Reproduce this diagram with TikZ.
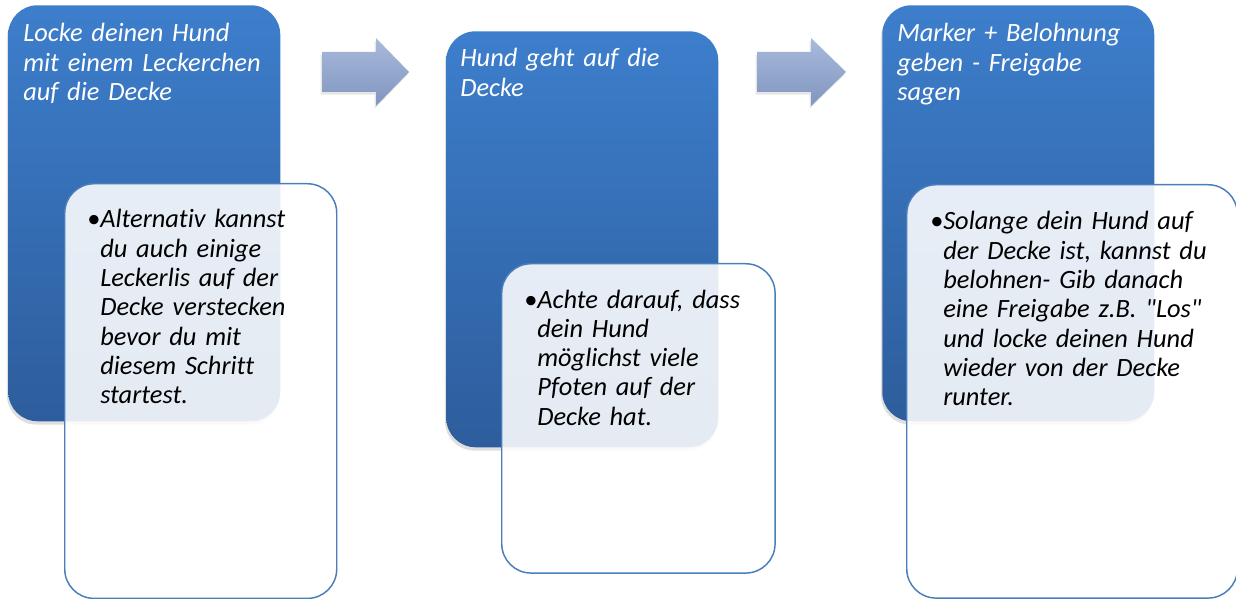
\documentclass[tikz,border=0pt]{standalone}
\usepackage{fontspec}
\setmainfont{Carlito}[Ligatures={NoCommon,TeXOff}]
\usetikzlibrary{shadows}
\definecolor{stepTop}{HTML}{3D7ECC}
\definecolor{stepBottom}{HTML}{2D5D9C}
\definecolor{noteLine}{HTML}{4A7EBB}
\definecolor{arrowTop}{HTML}{A8BADC}
\definecolor{arrowBottom}{HTML}{8195BF}
\begin{document}
\begin{tikzpicture}[x=0.75pt, y=-0.75pt,
    stepbox/.style={rectangle, rounded corners=22pt, top color=stepTop, bottom color=stepBottom,
      anchor=north west, inner sep=0pt, minimum width=204pt, minimum height=312pt,
      drop shadow={shadow xshift=-1pt, shadow yshift=-2.5pt, opacity=0.25}},
    notebox/.style={rectangle, rounded corners=22pt, fill=white, fill opacity=0.88,
      draw=noteLine, line width=1.1pt, anchor=north west, inner sep=0pt},
    titletext/.style={anchor=base west, inner sep=0pt, text width=200pt, align=left,
      text=white, font=\fontsize{19.8}{22}\selectfont\itshape},
    notetext/.style={anchor=base west, inner sep=0pt, text width=240pt, align=left,
      text=black, font=\fontsize{19.8}{22}\selectfont\itshape},
    blockarrow/.style={top color=arrowTop, bottom color=arrowBottom,
      drop shadow={shadow xshift=-1pt, shadow yshift=-2pt, opacity=0.2}}]
    \useasboundingbox (0,0) rectangle (1236,599);

    % steps
    \node[stepbox] (stepA) at (8,5) {};
    \node[stepbox] (stepB) at (446,31) {};
    \node[stepbox] (stepC) at (882,5) {};

    \node[titletext] (titleA) at (23,42) {Locke deinen Hund\\mit einem Leckerchen\\auf die Decke};
    \node[titletext] (titleB) at (460,67) {Hund geht auf die\\Decke};
    \node[titletext] (titleC) at (897,42) {Marker + Belohnung\\geben - Freigabe\\sagen};

    % notes
    \node[notebox, minimum width=204pt, minimum height=311pt] (noteA) at (64,183) {};
    \node[notebox, minimum width=205pt, minimum height=232pt] (noteB) at (501,263) {};
    \node[notebox, minimum width=248pt, minimum height=310pt] (noteC) at (906,184) {};

    \node[notetext] (textA) at (100,228) {\llap{•}Alternativ kannst\\du auch einige\\Leckerlis auf der\\Decke verstecken\\bevor du mit\\diesem Schritt\\startest.};
    \node[notetext] (textB) at (537,308) {\llap{•}Achte darauf, dass\\dein Hund\\möglichst viele\\Pfoten auf der\\Decke hat.};
    \node[notetext] (textC) at (943,230) {\llap{•}Solange dein Hund auf\\der Decke ist, kannst du\\belohnen- Gib danach\\eine Freigabe z.B. "Los"\\und locke deinen Hund\\wieder von der Decke\\runter.};

    % arrows
    \path[blockarrow] (322,52) -- (376,52) -- (376,38) -- (409,72) -- (376,106) -- (376,92) -- (322,92) -- cycle;
    \path[blockarrow] (757,52) -- (811,52) -- (811,38) -- (846,72) -- (811,106) -- (811,92) -- (757,92) -- cycle;
\end{tikzpicture}
\end{document}
